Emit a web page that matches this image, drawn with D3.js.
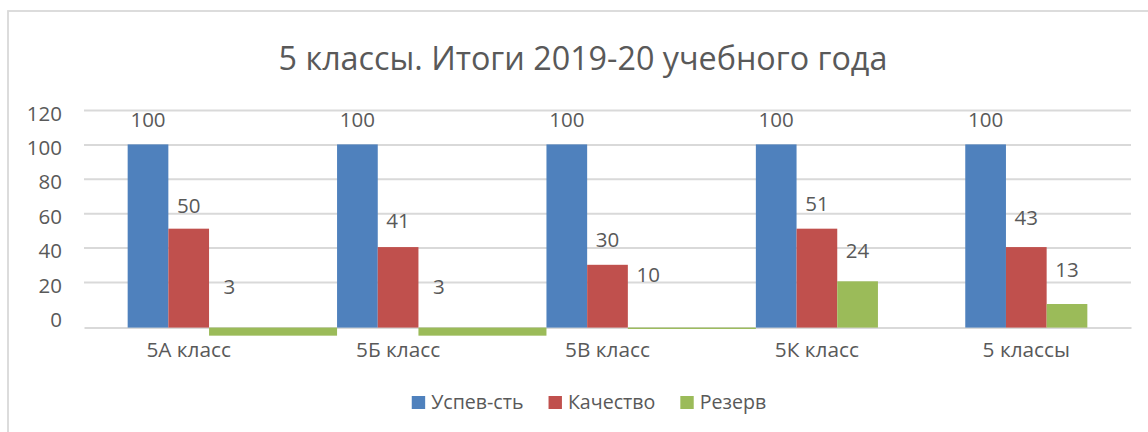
<!DOCTYPE html>
<html><head><meta charset="utf-8">
<script src="https://cdn.jsdelivr.net/npm/d3@7"></script>
<style>body{margin:0;background:#fff} svg{display:block}</style>
</head><body>
<svg id="chart" width="1148" height="432"></svg>
<script>
// ---- data ----
const chartTitle = "5 классы. Итоги 2019-20 учебного года";
const categories = ["5А класс", "5Б класс", "5В класс", "5К класс", "5 классы"];
const seriesNames = ["Успев-сть", "Качество", "Резерв"];
const seriesColors = ["#4f81bd", "#c0504d", "#9bbb59"];
// data labels as printed on the chart
const uspevLabels = [100, 100, 100, 100, 100];
const kachestvoLabels = [50, 41, 30, 51, 43];
const rezervLabels = [3, 3, 10, 24, 13];
// bar ends as drawn in the picture (the original render is distorted)
const uspevBars = [100, 100, 100, 100, 100];
const kachestvoBars = [51, 40.3, 30, 51, 40.3];
const rezervBars = [-11.2, -11.2, -7.3, 20.4, 7.2];
const rezervSpill = [true, true, true, false, false]; // green bar stretched across the gap
const yTicks = [0, 20, 40, 60, 80, 100, 120];
const axisCross = -6.5; // where the category axis line sits

// ---- layout ----
const W = 1148, H = 432;
const plotL = 84, plotR = 1131, plotT = 110, plotB = 316.4;
const font = "'Open Sans', 'Liberation Sans', sans-serif";
const textColor = "#595959", gridColor = "#d9d9d9";

const svg = d3.select("#chart");
svg.append("rect").attr("width", W).attr("height", H).attr("fill", "#fff");
svg.append("rect").attr("x", 8).attr("y", 11).attr("width", 1200).attr("height", 500)
  .attr("fill", "none").attr("stroke", gridColor).attr("stroke-width", 1.8);

const x0 = d3.scaleBand().domain(categories).range([plotL, plotR])
  .paddingInner(0.417).paddingOuter(0.2085);
const x1 = d3.scaleBand().domain(seriesNames).range([0, x0.bandwidth()]);
const y = d3.scaleLinear().domain([0, 120]).range([plotB, plotT]);

// title
svg.append("text").attr("x", 583).attr("y", 70).attr("text-anchor", "middle")
  .style("font-family", font).style("font-size", "32.3px").attr("fill", textColor)
  .text(chartTitle);

// gridlines
const grid = svg.append("g").attr("transform", `translate(${plotL},0)`)
  .call(d3.axisLeft(y).tickValues(yTicks.filter(d => d > 0)).tickSize(-(plotR - plotL)).tickFormat(""));
grid.select(".domain").remove();
grid.selectAll("line").attr("stroke", gridColor).attr("stroke-width", 2);

// y tick labels
const yAx = svg.append("g").attr("transform", "translate(62,0)")
  .call(d3.axisLeft(y).tickValues(yTicks).tickSize(0).tickPadding(0));
yAx.select(".domain").remove();
yAx.selectAll("text").attr("dy", "10px").attr("fill", textColor)
  .style("font-family", font).style("font-size", "20.5px");

// x axis
const xAx = svg.append("g").attr("transform", `translate(0,${y(axisCross)})`)
  .call(d3.axisBottom(x0).tickSize(0).tickSizeOuter(0));
xAx.select(".domain").attr("stroke", gridColor).attr("stroke-width", 2);
xAx.selectAll("text").attr("dy", null).attr("y", 29).attr("fill", textColor)
  .style("font-family", font).style("font-size", "20.8px");

// bars
const barSets = [uspevBars, kachestvoBars, rezervBars];
const labelSets = [uspevLabels, kachestvoLabels, rezervLabels];
const base = y(axisCross);
const bars = [];
categories.forEach((c, i) => {
  seriesNames.forEach((s, j) => {
    const v = barSets[j][i];
    let xs = x0(c) + x1(s), xe = xs + x1.bandwidth();
    if (j === 2 && rezervSpill[i]) {
      xe = i + 1 < categories.length ? x0(categories[i + 1]) : xe;
    }
    bars.push({ xs, xe, y0: Math.min(base, y(v)), y1: Math.max(base, y(v)), color: seriesColors[j] });
  });
});
svg.append("g").selectAll("rect").data(bars).join("rect")
  .attr("x", d => d.xs).attr("width", d => d.xe - d.xs)
  .attr("y", d => d.y0).attr("height", d => d.y1 - d.y0)
  .attr("fill", d => d.color);

// data labels
const labels = [];
categories.forEach((c, i) => {
  seriesNames.forEach((s, j) => {
    labels.push({ x: x0(c) + x1(s) + x1.bandwidth() / 2, v: labelSets[j][i] });
  });
});
svg.append("g").selectAll("text").data(labels).join("text")
  .attr("x", d => d.x).attr("y", d => y(d.v) - 17.5).attr("text-anchor", "middle")
  .attr("fill", textColor).style("font-family", font).style("font-size", "20.5px")
  .text(d => d.v);

// legend
const leg = svg.append("g");
const items = leg.selectAll("g").data(seriesNames).join("g");
items.append("rect").attr("width", 13.4).attr("height", 13).attr("y", 396)
  .attr("fill", (d, i) => seriesColors[i]);
items.append("text").attr("x", 19.4).attr("y", 409.3).attr("fill", textColor)
  .style("font-family", font).style("font-size", "19.6px").text(d => d);
let cx = 0;
const offs = [];
items.each(function () {
  offs.push(cx);
  const w = d3.select(this).select("text").node().getComputedTextLength();
  cx += 19.4 + w + 25;
});
const total = cx - 25;
const start = 589 - total / 2;
items.attr("transform", (d, i) => `translate(${start + offs[i]},0)`);
</script>
</body></html>
